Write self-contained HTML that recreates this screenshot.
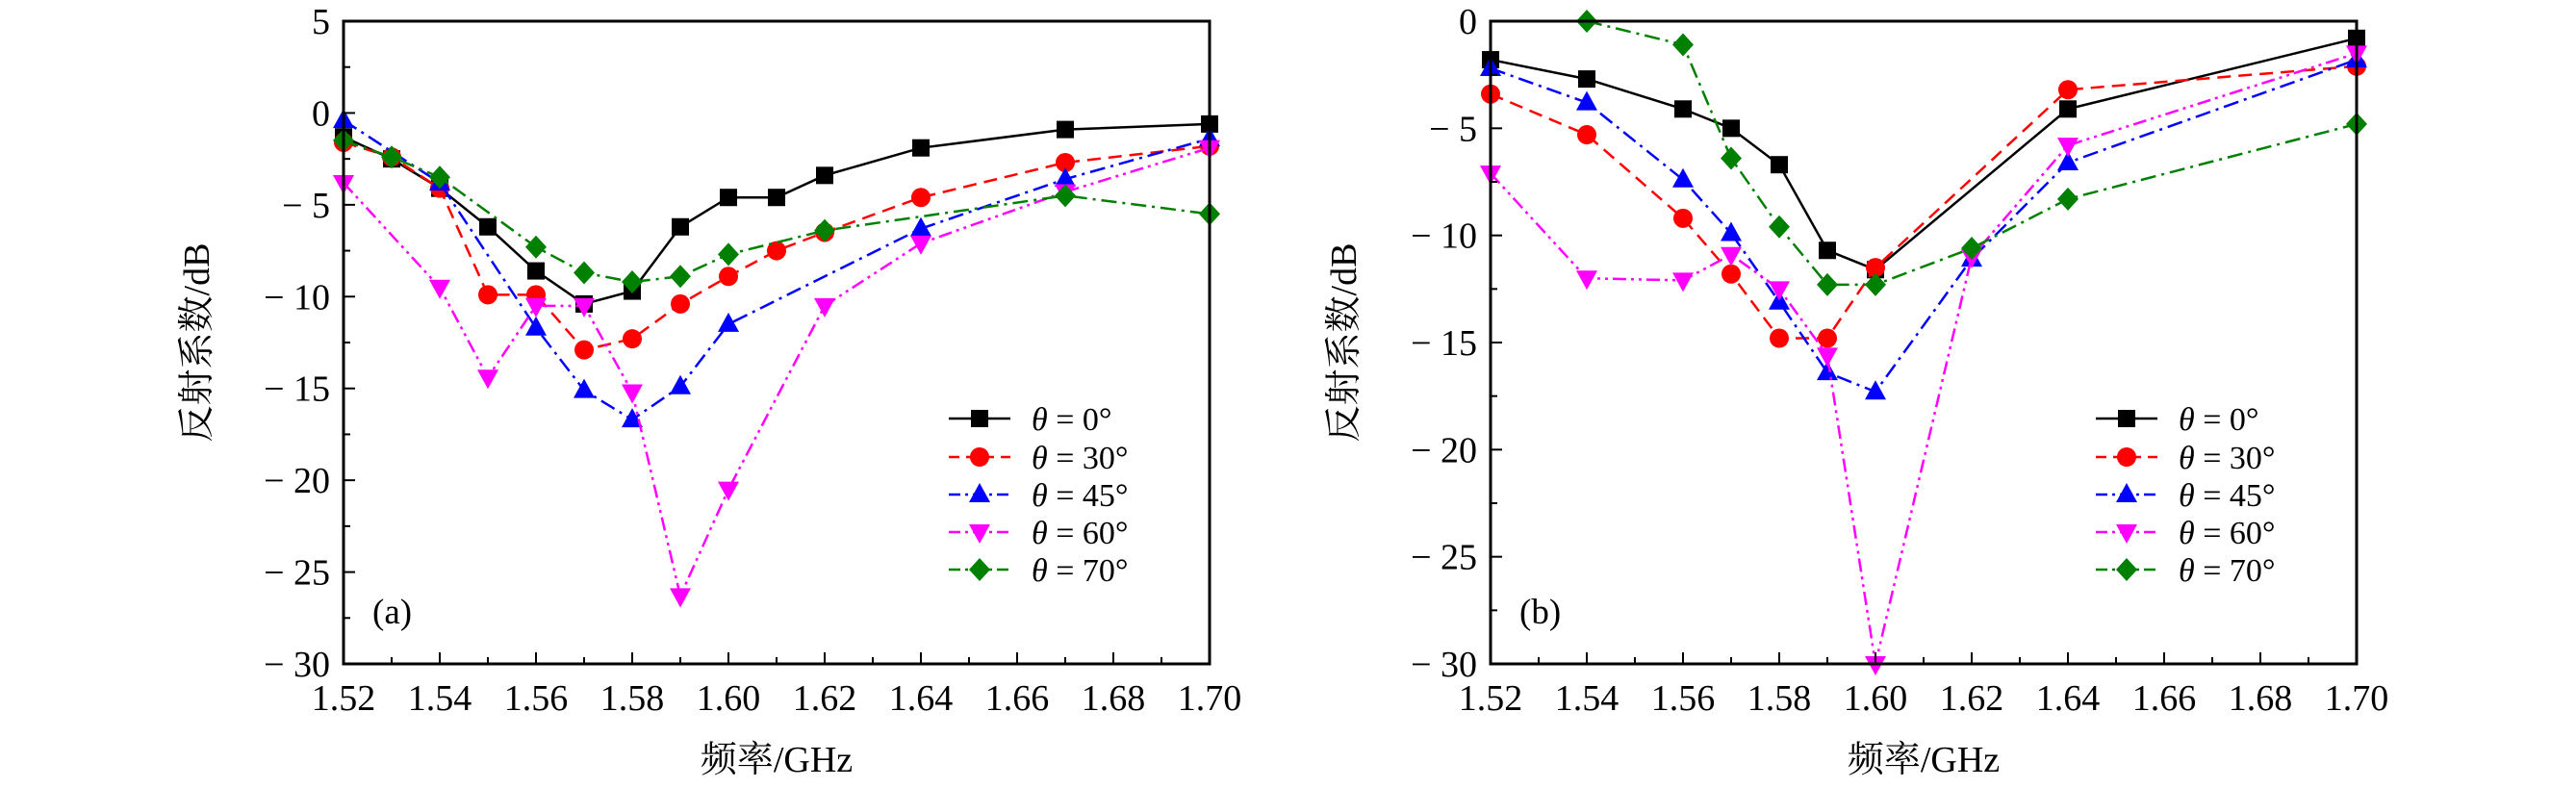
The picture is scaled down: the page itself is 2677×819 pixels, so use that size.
<!DOCTYPE html>
<html><head><meta charset="utf-8"><style>
body{margin:0;background:#fff;}
svg{display:block;font-family:"Liberation Serif","Noto Serif CJK SC",serif;}
</style></head><body>
<svg id="chart" width="2677" height="819" viewBox="0 0 2677 819" xmlns="http://www.w3.org/2000/svg"></svg>
<script>
const xTickLabels=["1.52","1.54","1.56","1.58","1.60","1.62","1.64","1.66","1.68","1.70"];
const seriesNames=["θ = 0°","θ = 30°","θ = 45°","θ = 60°","θ = 70°"];
const aX0=[1.52,1.53,1.54,1.55,1.56,1.57,1.58,1.59,1.60,1.61,1.62,1.64,1.67,1.70];
const aY0=[-1.3,-2.5,-4.1,-6.2,-8.6,-10.4,-9.7,-6.2,-4.6,-4.6,-3.4,-1.9,-0.9,-0.6];
const aX30=[1.52,1.53,1.54,1.55,1.56,1.57,1.58,1.59,1.60,1.61,1.62,1.64,1.67,1.70];
const aY30=[-1.6,-2.4,-4.1,-9.9,-9.9,-12.9,-12.3,-10.4,-8.9,-7.5,-6.5,-4.6,-2.7,-1.8];
const aX45=[1.52,1.54,1.56,1.57,1.58,1.59,1.60,1.64,1.67,1.70];
const aY45=[-0.4,-3.8,-11.7,-15.1,-16.7,-14.9,-11.5,-6.3,-3.6,-1.4];
const aX60=[1.52,1.54,1.55,1.56,1.57,1.58,1.59,1.60,1.62,1.64,1.67,1.70];
const aY60=[-3.8,-9.5,-14.4,-10.5,-10.5,-15.2,-26.3,-20.5,-10.5,-7.1,-4.3,-1.9];
const aX70=[1.52,1.53,1.54,1.56,1.57,1.58,1.59,1.60,1.62,1.67,1.70];
const aY70=[-1.5,-2.4,-3.5,-7.3,-8.7,-9.2,-8.9,-7.7,-6.4,-4.5,-5.5];
const bX0=[1.52,1.54,1.56,1.57,1.58,1.59,1.60,1.64,1.70];
const bY0=[-1.8,-2.7,-4.1,-5.0,-6.7,-10.7,-11.6,-4.1,-0.8];
const bX30=[1.52,1.54,1.56,1.57,1.58,1.59,1.60,1.64,1.70];
const bY30=[-3.4,-5.3,-9.2,-11.8,-14.8,-14.8,-11.5,-3.2,-2.1];
const bX45=[1.52,1.54,1.56,1.57,1.58,1.59,1.60,1.62,1.64,1.70];
const bY45=[-2.2,-3.8,-7.4,-9.9,-13.1,-16.4,-17.3,-11.1,-6.6,-1.8];
const bX60=[1.52,1.54,1.56,1.57,1.58,1.59,1.60,1.62,1.64,1.70];
const bY60=[-7.1,-12.0,-12.1,-10.9,-12.5,-15.6,-30.0,-11.0,-5.8,-1.5];
const bX70=[1.54,1.56,1.57,1.58,1.59,1.60,1.62,1.64,1.70];
const bY70=[0.0,-1.1,-6.4,-9.6,-12.3,-12.3,-10.6,-8.3,-4.8];
const aYTicks=[5,0,-5,-10,-15,-20,-25,-30];
const bYTicks=[0,-5,-10,-15,-20,-25,-30];

const NS="http://www.w3.org/2000/svg";
const svg=document.getElementById('chart');
function mk(tag,attrs,parent){const e=document.createElementNS(NS,tag);for(const k in attrs)e.setAttribute(k,attrs[k]);(parent||svg).appendChild(e);return e;}
const colors=["#000","#ff0000","#0000ff","#ff00ff","#008000"];
const dashes=["none","14 8","16 6 3 6","14 5 3 5 3 5","16 6 3 6"];
const markers=["square","circle","tri-up","tri-down","diamond"];
function marker(g,shape,cx,cy,col){
  let e;
  if(shape==="square")e=mk('rect',{x:cx-9,y:cy-9,width:18,height:18,fill:col},g);
  else if(shape==="circle")e=mk('circle',{cx:cx,cy:cy,r:10,fill:col},g);
  else if(shape==="tri-up")e=mk('polygon',{points:`${cx},${cy-12} ${cx-11},${cy+8} ${cx+11},${cy+8}`,fill:col},g);
  else if(shape==="tri-down")e=mk('polygon',{points:`${cx},${cy+12} ${cx-11},${cy-8} ${cx+11},${cy-8}`,fill:col},g);
  else e=mk('polygon',{points:`${cx},${cy-12} ${cx+11},${cy} ${cx},${cy+12} ${cx-11},${cy}`,fill:col},g);
  return e;
}
function panel(id,L,R,T,B,ymin,ymax,yTicks,minorStep,xs,ys,legX,label){
  const g=mk('g',{});
  
  
  const sx=v=>L+(v-1.52)/(0.18)*(R-L);
  const sy=v=>T+(ymax-v)/(ymax-ymin)*(B-T);
  for(let s=0;s<5;s++){
    const sg=mk('g',{},g);
    
    
    const pts=xs[s].map((x,i)=>sx(x)+','+sy(ys[s][i])).join(' ');
    mk('polyline',{points:pts,fill:'none',stroke:colors[s],'stroke-width':2.5,'stroke-dasharray':dashes[s]},sg);
    xs[s].forEach((x,i)=>{const m=marker(sg,markers[s],sx(x),sy(ys[s][i]),colors[s]);
      
      });
  }
  const fr=mk('rect',{x:L,y:T,width:R-L,height:B-T,fill:'none',stroke:'#000','stroke-width':3},g);
  
  
  for(let i=0;i<=18;i++){const x=sx(1.52+i*0.01);const len=i%2===0?12:7;
    mk('line',{x1:x,y1:B,x2:x,y2:B-len,stroke:'#000','stroke-width':2},g);}
  xTickLabels.forEach((t,i)=>{const x=sx(1.52+i*0.02);
    const e=mk('text',{x:x,y:B+48,'font-size':38,'text-anchor':'middle'},g);e.textContent=t;
    
    });
  for(let v=ymin;v<=ymax+0.01;v+=minorStep){const y=sy(v);const major=Math.abs(v%5)<0.01;
    mk('line',{x1:L,y1:y,x2:L+(major?12:7),y2:y,stroke:'#000','stroke-width':2},g);}
  yTicks.forEach(v=>{const y=sy(v);
    const e=mk('text',{x:L-14,y:y+13,'font-size':38,'text-anchor':'end'},g);
    e.textContent=v<0?'− '+Math.abs(v):String(v);
    
    });
  const xt=mk('text',{x:(L+R)/2,y:802,'font-size':38,'text-anchor':'middle'},g);
  xt.textContent='频率/GHz';
  
  
  const yx=L-140,yy=(T+B)/2;
  const yt=mk('text',{x:yx,y:yy,'font-size':38,'text-anchor':'middle',transform:`rotate(-90 ${yx} ${yy})`},g);
  yt.textContent='反射系数/dB';
  
  
  const pl=mk('text',{x:L+30,y:648,'font-size':37},g);
  pl.textContent=label;
  
  
  const lg=mk('g',{},g);
  
  
  const rows=[435,475,514,553,592];
  for(let s=0;s<5;s++){
    const eg=mk('g',{},lg);
    
    
    const y=rows[s];
    mk('line',{x1:legX,y1:y,x2:legX+64,y2:y,stroke:colors[s],'stroke-width':2.5,'stroke-dasharray':s===0?'none':(s===1?'11 7':'12 5 3 5')},eg);
    marker(eg,markers[s],legX+32,y,colors[s]);
    const t=mk('text',{x:legX+86,y:y+12,'font-size':34},eg);
    const th=mk('tspan',{'font-style':'italic'},t);th.textContent='θ';
    const r=mk('tspan',{},t);r.textContent=' = '+[0,30,45,60,70][s]+'°';
  }
}
panel('a',357,1257,22,690,-30,5,aYTicks,2.5,[aX0,aX30,aX45,aX60,aX70],[aY0,aY30,aY45,aY60,aY70],986,'(a)');
panel('b',1549,2449,22,690,-30,0,bYTicks,2.5,[bX0,bX30,bX45,bX60,bX70],[bY0,bY30,bY45,bY60,bY70],2178,'(b)');
</script>
</body></html>
